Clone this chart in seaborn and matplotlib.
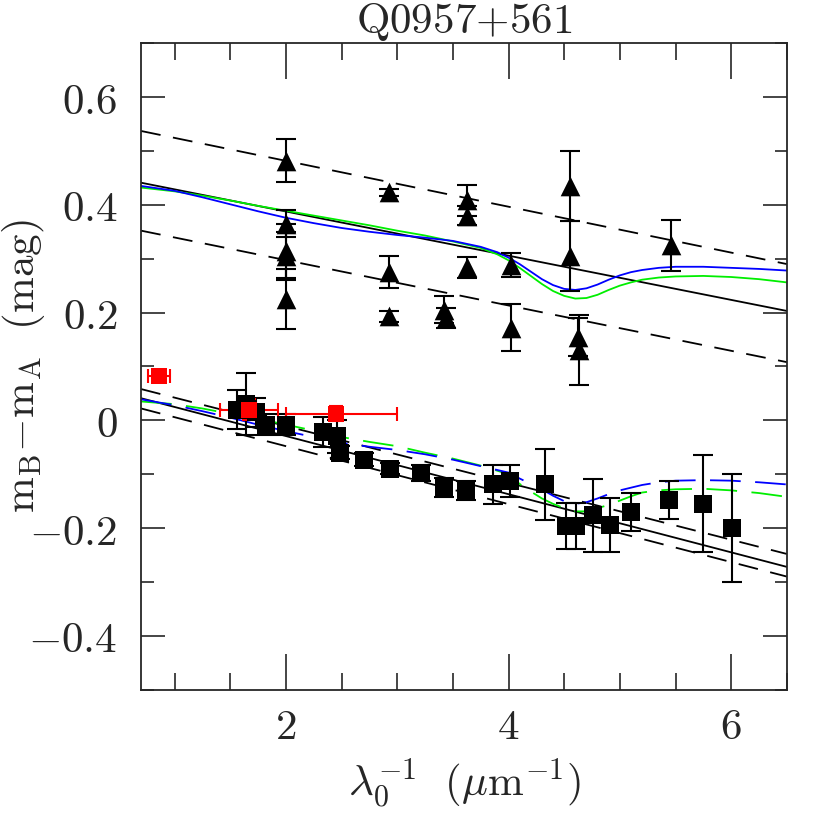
import numpy as np
import pandas as pd
import matplotlib
matplotlib.use("Agg")
import matplotlib.pyplot as plt
import matplotlib.ticker as ticker
import seaborn as sns

# ---- upper group : triangles ----
tri_x = [2.0, 2.0, 2.0, 2.0, 2.0, 2.93, 2.93, 2.93, 3.42, 3.44, 3.63, 3.63, 3.63,
         4.02, 4.02, 4.55, 4.55, 4.62, 4.63, 5.46]
tri_y = [0.482, 0.365, 0.315, 0.305, 0.225, 0.423, 0.275, 0.193, 0.205, 0.19, 0.408, 0.38, 0.284,
         0.288, 0.172, 0.435, 0.305, 0.155, 0.13, 0.325]
tri_e = [0.04, 0.025, 0.05, 0.045, 0.055, 0.006, 0.03, 0.01, 0.025, 0.018, 0.028, 0.018, 0.02,
         0.022, 0.043, 0.065, 0.065, 0.035, 0.065, 0.047]

# ---- lower group : black squares ----
sq_x = [1.56, 1.64, 1.73, 1.82, 2.0, 2.33, 2.46, 2.49, 2.70, 2.94, 3.21, 3.42, 3.62,
        3.86, 4.01, 4.33, 4.52, 4.61, 4.76, 4.91, 5.10, 5.44, 5.75, 6.01]
sq_y = [0.02, 0.03, 0.015, -0.008, -0.008, -0.022, -0.03, -0.06, -0.073, -0.09, -0.097, -0.125, -0.13,
        -0.119, -0.113, -0.119, -0.196, -0.196, -0.176, -0.195, -0.17, -0.148, -0.155, -0.2]
sq_e = [0.037, 0.058, 0.027, 0.02, 0.02, 0.028, 0.03, 0.012, 0.012, 0.01, 0.015, 0.018, 0.018,
        0.036, 0.03, 0.066, 0.043, 0.043, 0.068, 0.05, 0.035, 0.035, 0.09, 0.1]

# ---- red squares ----
red_x = [0.86, 1.67, 2.45]
red_y = [0.082, 0.02, 0.012]
red_ye = [0.008, 0.02, 0.014]
red_xlo = [0.1, 0.26, 0.45]
red_xhi = [0.1, 0.26, 0.55]

# ---- straight fits ----
fit_x = [0.7, 6.5]
up_fit = [0.441, 0.203]
up_lo = [0.352, 0.108]
up_hi = [0.537, 0.29]
low_fit = [0.041, -0.272]
low_lo = [0.022, -0.29]
low_hi = [0.058, -0.248]

# ---- extinction curves (upper) ----
ux = [0.7, 1.0, 1.25, 1.5, 1.75, 2.0, 2.25, 2.5, 2.75, 3.0, 3.25, 3.5, 3.75, 3.9, 4.0, 4.1, 4.2,
      4.3, 4.4, 4.5, 4.6, 4.7, 4.8, 4.9, 5.0, 5.1, 5.2, 5.35, 5.5, 5.75, 6.0, 6.25, 6.5]
up_blue = [0.435, 0.426, 0.414, 0.401, 0.388, 0.376, 0.366, 0.357, 0.350, 0.344, 0.339, 0.333, 0.322,
           0.312, 0.302, 0.290, 0.276, 0.262, 0.251, 0.244, 0.242, 0.245, 0.252, 0.261, 0.269, 0.275,
           0.279, 0.283, 0.285, 0.285, 0.283, 0.281, 0.278]
up_green = [0.432, 0.425, 0.417, 0.408, 0.398, 0.389, 0.380, 0.371, 0.362, 0.352, 0.343, 0.332, 0.320,
            0.308, 0.297, 0.283, 0.268, 0.253, 0.240, 0.231, 0.226, 0.227, 0.233, 0.242, 0.250, 0.256,
            0.261, 0.265, 0.267, 0.268, 0.266, 0.262, 0.256]

# ---- extinction curves (lower) ----
lx = [0.7, 1.0, 1.25, 1.5, 1.75, 2.0, 2.25, 2.5, 2.75, 3.0, 3.25, 3.5, 3.75, 4.0, 4.1, 4.2, 4.3,
      4.4, 4.5, 4.6, 4.7, 4.8, 4.9, 5.0, 5.1, 5.2, 5.35, 5.5, 5.75, 6.0, 6.25, 6.5]
low_blue = [0.039, 0.028, 0.017, 0.005, -0.008, -0.020, -0.031, -0.042, -0.049, -0.055, -0.063, -0.073,
            -0.085, -0.097, -0.108, -0.118, -0.128, -0.140, -0.150, -0.155, -0.152, -0.145, -0.137,
            -0.130, -0.125, -0.120, -0.115, -0.112, -0.111, -0.112, -0.115, -0.119]
low_green = [0.035, 0.030, 0.022, 0.012, 0.003, -0.008, -0.019, -0.031, -0.040, -0.048, -0.060, -0.071,
             -0.084, -0.100, -0.118, -0.132, -0.145, -0.155, -0.163, -0.169, -0.169, -0.163, -0.157,
             -0.149, -0.141, -0.134, -0.130, -0.128, -0.127, -0.130, -0.135, -0.142]

sns.set_style("ticks")
plt.rcParams["mathtext.fontset"] = "cm"
plt.rcParams["font.family"] = ["DejaVu Serif"]

fig = plt.figure(figsize=(8.3, 8.3), dpi=100)
ax = fig.add_axes([0.17, 0.169, 0.778, 0.779])

lw = 1.3
# straight lines
for yy, ls in [(up_fit, "-"), (up_lo, "--"), (up_hi, "--"), (low_fit, "-"), (low_lo, "--"), (low_hi, "--")]:
    sns.lineplot(x=fit_x, y=yy, color="black", lw=lw, ls=ls, ax=ax, estimator=None, sort=False)
    if ls == "--":
        ax.lines[-1].set_dashes((11, 7))

sns.lineplot(x=ux, y=up_green, color="#00ee00", lw=lw, ax=ax, estimator=None)
sns.lineplot(x=ux, y=up_blue, color="#0000ff", lw=lw, ax=ax, estimator=None)
sns.lineplot(x=lx, y=low_green, color="#00ee00", lw=lw, ax=ax, estimator=None)
ax.lines[-1].set_dashes((17, 8))
sns.lineplot(x=lx, y=low_blue, color="#0000ff", lw=lw, ax=ax, estimator=None)
ax.lines[-1].set_dashes((17, 8))

# error bars
ax.errorbar(tri_x, tri_y, yerr=tri_e, fmt="none", ecolor="black", elinewidth=1.5, capsize=7, capthick=1.5)
ax.errorbar(sq_x, sq_y, yerr=sq_e, fmt="none", ecolor="black", elinewidth=1.5, capsize=7, capthick=1.5)
ax.errorbar(red_x, red_y, yerr=red_ye, xerr=[red_xlo, red_xhi], fmt="none", ecolor="red",
            elinewidth=1.5, capsize=5, capthick=1.5)

sns.scatterplot(x=tri_x, y=tri_y, marker="^", s=200, color="black", edgecolor="black", linewidth=0, ax=ax, zorder=5)
sns.scatterplot(x=sq_x, y=sq_y, marker="s", s=150, color="black", edgecolor="black", linewidth=0, ax=ax, zorder=5)
sns.scatterplot(x=red_x, y=red_y, marker="s", s=140, color="red", edgecolor="red", linewidth=0, ax=ax, zorder=6)

ax.set_xlim(0.7, 6.5)
ax.set_ylim(-0.5, 0.7)
ax.xaxis.set_major_locator(ticker.MultipleLocator(2))
ax.xaxis.set_minor_locator(ticker.MultipleLocator(0.5))
ax.yaxis.set_major_locator(ticker.MultipleLocator(0.2))
ax.yaxis.set_minor_locator(ticker.MultipleLocator(0.1))

def fmt(v, pos):
    if abs(v) < 1e-9:
        return r"$0$"
    return r"$%g$" % round(v, 2)

fs = 31
ax.xaxis.set_major_formatter(ticker.FuncFormatter(fmt))
ax.yaxis.set_major_formatter(ticker.FuncFormatter(fmt))
ax.tick_params(axis="both", which="both", direction="in", top=True, right=True, labelsize=fs, width=1.2)
ax.tick_params(axis="x", which="major", length=26, pad=12)
ax.tick_params(axis="x", which="minor", length=12)
ax.tick_params(axis="y", which="major", length=17, pad=17)
ax.tick_params(axis="y", which="minor", length=9)
for s in ax.spines.values():
    s.set_linewidth(1.3)

ax.set_title(r"$\mathrm{Q0957{+}561}$", fontsize=fs, pad=6)
ax.set_xlabel(r"$\lambda_0^{\mathrm{-1}}\ \ (\mu\mathrm{m^{-1}})$", fontsize=fs, labelpad=6)
ax.set_ylabel(r"$\mathrm{m_B{-}m_A}\ \ \mathrm{(mag)}$", fontsize=fs)
ax.yaxis.set_label_coords(-0.145, 0.5)

fig.savefig("out.png", dpi=100)
